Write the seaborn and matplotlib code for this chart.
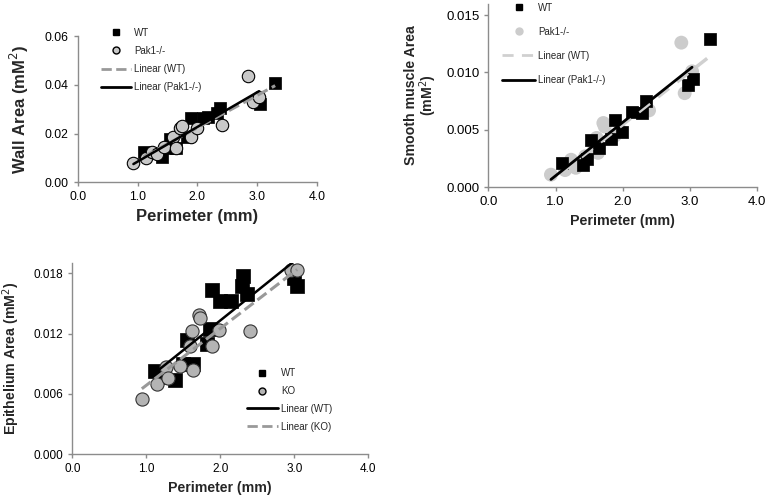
import matplotlib
matplotlib.use('Agg')
import matplotlib.pyplot as plt
import seaborn as sns
from matplotlib.lines import Line2D
from matplotlib.ticker import FormatStrFormatter

# Wall area vs perimeter
wall_wt_perim = [1.10, 1.35, 1.40, 1.51, 1.54, 1.65, 1.82, 1.90, 2.10, 2.18, 2.32, 2.37, 2.99, 3.04, 3.30]
wall_wt_area = [0.0125, 0.0120, 0.0105, 0.0140, 0.0178, 0.0140, 0.0187, 0.0265, 0.0265, 0.0270, 0.0283, 0.0305, 0.0332, 0.0322, 0.0407]
wall_ko_perim = [0.93, 1.14, 1.24, 1.32, 1.44, 1.60, 1.64, 1.71, 1.74, 1.89, 1.99, 2.41, 2.85, 2.93, 3.03]
wall_ko_area = [0.0078, 0.0099, 0.0126, 0.0116, 0.0146, 0.0187, 0.0140, 0.0222, 0.0231, 0.0187, 0.0222, 0.0235, 0.0437, 0.0331, 0.0352]

# Smooth muscle area vs perimeter
sm_wt_perim = [1.10, 1.40, 1.47, 1.52, 1.65, 1.83, 1.88, 1.98, 2.13, 2.28, 2.35, 2.97, 3.04, 3.30]
sm_wt_area = [0.0021, 0.0019, 0.0025, 0.0041, 0.0034, 0.0042, 0.0059, 0.0048, 0.0066, 0.0065, 0.0075, 0.0089, 0.0094, 0.0129]
sm_ko_perim = [0.93, 1.14, 1.23, 1.30, 1.44, 1.57, 1.61, 1.63, 1.71, 1.73, 1.88, 1.97, 2.39, 2.87, 2.92, 3.03]
sm_ko_area = [0.0011, 0.0015, 0.0024, 0.0017, 0.0027, 0.0037, 0.0043, 0.0030, 0.0056, 0.0053, 0.0045, 0.0049, 0.0067, 0.0126, 0.0082, 0.0101]

# Epithelium area vs perimeter
ep_wt_perim = [1.12, 1.22, 1.39, 1.50, 1.55, 1.63, 1.82, 1.86, 1.89, 1.99, 2.14, 2.29, 2.31, 2.36, 2.99, 3.04]
ep_wt_area = [0.0083, 0.0077, 0.0074, 0.0090, 0.0114, 0.0090, 0.0110, 0.0125, 0.0163, 0.0152, 0.0152, 0.0167, 0.0177, 0.0159, 0.0175, 0.0167]
ep_ko_perim = [0.94, 1.14, 1.27, 1.30, 1.45, 1.59, 1.62, 1.63, 1.71, 1.73, 1.89, 1.98, 2.40, 2.95, 3.04]
ep_ko_area = [0.0055, 0.0070, 0.0087, 0.0076, 0.0088, 0.0108, 0.0123, 0.0084, 0.0138, 0.0135, 0.0108, 0.0124, 0.0123, 0.0183, 0.0183]

sns.set_style('ticks')
plt.rcParams['font.family'] = ['Liberation Sans', 'DejaVu Sans']

fig = plt.figure(figsize=(7.68, 4.95), dpi=100)
ax1 = fig.add_axes([0.1013, 0.6317, 0.3115, 0.2949])
ax2 = fig.add_axes([0.636, 0.6216, 0.35, 0.3711])
ax3 = fig.add_axes([0.0941, 0.0828, 0.3854, 0.3853])


def style(ax, ylim, yticks, yfmt, xlabel, ylabel, xsize, ysize, ticksize, ypad):
    ax.set_xlim(0, 4)
    ax.set_ylim(*ylim)
    ax.set_xticks([0, 1, 2, 3, 4])
    ax.set_yticks(yticks)
    ax.xaxis.set_major_formatter(FormatStrFormatter('%.1f'))
    ax.yaxis.set_major_formatter(FormatStrFormatter(yfmt))
    sns.despine(ax=ax)
    for s in ['left', 'bottom']:
        ax.spines[s].set_color('#8c8c8c')
        ax.spines[s].set_linewidth(1.0)
    ax.tick_params(colors='#8c8c8c', labelcolor='black', labelsize=ticksize, length=3, width=1)
    ax.set_xlabel(xlabel, fontsize=xsize, fontweight='bold')
    ax.set_ylabel(ylabel, fontsize=ysize, fontweight='bold', labelpad=ypad, linespacing=1.0)


# Panel 1: wall area
sns.scatterplot(x=wall_wt_perim, y=wall_wt_area, marker='s', color='black', s=75,
                edgecolor='black', linewidth=0.5, ax=ax1, zorder=2)
sns.scatterplot(x=wall_ko_perim, y=wall_ko_area, marker='o', color='#c8c8c8', s=80,
                edgecolor='black', linewidth=0.8, ax=ax1, zorder=3)
sns.regplot(x=wall_wt_perim, y=wall_wt_area, scatter=False, ci=None, ax=ax1,
            line_kws=dict(color='#999999', ls='--', lw=2.2, zorder=4))
sns.regplot(x=wall_ko_perim, y=wall_ko_area, scatter=False, ci=None, ax=ax1,
            line_kws=dict(color='black', ls='-', lw=1.8, zorder=5))
style(ax1, (0, 0.06), [0, 0.02, 0.04, 0.06], '%.2f', 'Perimeter (mm)', 'Wall Area (mM$^2$)',
      12, 12, 8.8, 10)
h1 = [Line2D([], [], marker='s', color='black', ls='none', markersize=5),
      Line2D([], [], marker='o', mfc='#c8c8c8', mec='black', ls='none', markersize=5),
      Line2D([], [], color='#999999', ls='--', lw=2),
      Line2D([], [], color='black', lw=2)]
ax1.legend(h1, ['WT', 'Pak1-/-', 'Linear (WT)', 'Linear (Pak1-/-)'], loc='upper left',
           bbox_to_anchor=(0.096, 1.06), frameon=False, fontsize=7, handlelength=3.1,
           handletextpad=0.3, labelspacing=0.85, borderpad=0, borderaxespad=0)

# Panel 2: smooth muscle area
sns.scatterplot(x=sm_ko_perim, y=sm_ko_area, marker='o', color='#cccccc', s=100,
                edgecolor='none', ax=ax2, zorder=2)
sns.scatterplot(x=sm_wt_perim, y=sm_wt_area, marker='s', color='black', s=85,
                edgecolor='black', linewidth=0.5, ax=ax2, zorder=3)
sns.regplot(x=sm_wt_perim, y=sm_wt_area, scatter=False, ci=None, ax=ax2,
            line_kws=dict(color='#d0d0d0', ls=(0, (4, 3)), lw=2.5, zorder=4))
sns.regplot(x=sm_ko_perim, y=sm_ko_area, scatter=False, ci=None, ax=ax2,
            line_kws=dict(color='black', ls='-', lw=2, zorder=5))
style(ax2, (0, 0.016), [0, 0.005, 0.010, 0.015], '%.3f', 'Perimeter (mm)',
      'Smooth muscle Area\n(mM$^2$)', 10.3, 10.2, 9.5, 5)
h2 = [Line2D([], [], marker='s', color='black', ls='none', markersize=5),
      Line2D([], [], marker='o', color='#cccccc', ls='none', markersize=5),
      Line2D([], [], color='#d0d0d0', ls=(0, (4, 3)), lw=2),
      Line2D([], [], color='black', lw=2)]
ax2.legend(h2, ['WT', 'Pak1-/-', 'Linear (WT)', 'Linear (Pak1-/-)'], loc='upper left',
           bbox_to_anchor=(0.052, 1.005), frameon=False, fontsize=7, handlelength=3.4,
           handletextpad=0.3, labelspacing=1.45, borderpad=0, borderaxespad=0)

# Panel 3: epithelium area
sns.scatterplot(x=ep_wt_perim, y=ep_wt_area, marker='s', color='black', s=95,
                edgecolor='black', linewidth=0.5, ax=ax3, zorder=2)
sns.scatterplot(x=ep_ko_perim, y=ep_ko_area, marker='o', color='#b4b4b4', s=90,
                edgecolor='#333333', linewidth=0.8, ax=ax3, zorder=3)
sns.regplot(x=ep_wt_perim, y=ep_wt_area, scatter=False, ci=None, ax=ax3,
            line_kws=dict(color='black', ls='-', lw=1.8, zorder=4))
sns.regplot(x=ep_ko_perim, y=ep_ko_area, scatter=False, ci=None, ax=ax3,
            line_kws=dict(color='#999999', ls='--', lw=2.2, zorder=5))
style(ax3, (0, 0.019), [0, 0.006, 0.012, 0.018], '%.3f', 'Perimeter (mm)',
      'Epithelium Area (mM$^2$)', 10.2, 10.2, 8.5, 8)
h3 = [Line2D([], [], marker='s', color='black', ls='none', markersize=5),
      Line2D([], [], marker='o', mfc='#b4b4b4', mec='black', ls='none', markersize=5),
      Line2D([], [], color='black', lw=2),
      Line2D([], [], color='#999999', ls='--', lw=2)]
ax3.legend(h3, ['WT', 'KO', 'Linear (WT)', 'Linear (KO)'], loc='upper left',
           bbox_to_anchor=(0.59, 0.45), frameon=False, fontsize=7, handlelength=3.2,
           handletextpad=0.3, labelspacing=0.8, borderpad=0, borderaxespad=0)

plt.savefig('out.png', dpi=100)
